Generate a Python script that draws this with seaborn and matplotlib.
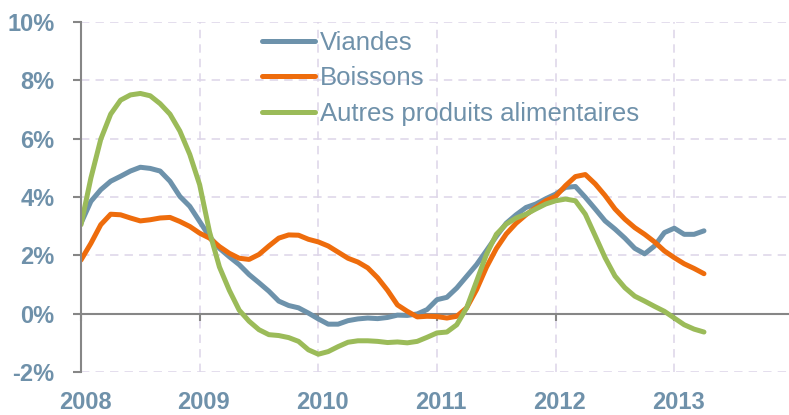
import numpy as np
import pandas as pd
import matplotlib
matplotlib.use("Agg")
import matplotlib.pyplot as plt
from matplotlib.transforms import ScaledTranslation
import seaborn as sns

# ---- data (monthly, Jan 2008 -> Apr 2013), % year-on-year ----
start_year = 2008
series_names = ["Viandes", "Boissons", "Autres produits alimentaires"]
viandes = [3.1, 3.85, 4.25, 4.54, 4.71, 4.89, 5.02, 4.98, 4.89, 4.54, 4.02, 3.68,
           3.16, 2.64, 2.24, 1.95, 1.68, 1.34, 1.06, 0.77, 0.43, 0.28, 0.2, 0.02,
           -0.18, -0.36, -0.36, -0.24, -0.18, -0.15, -0.17, -0.13, -0.05, -0.06, -0.01, 0.14,
           0.48, 0.56, 0.88, 1.28, 1.68, 2.16, 2.65, 3.1, 3.39, 3.64, 3.76, 3.94,
           4.1, 4.33, 4.36, 3.99, 3.59, 3.18, 2.9, 2.59, 2.24, 2.05, 2.32, 2.78,
           2.93, 2.72, 2.72, 2.84]
boissons = [1.84, 2.41, 3.05, 3.41, 3.39, 3.28, 3.18, 3.22, 3.28, 3.30, 3.16, 2.99,
            2.76, 2.59, 2.3, 2.07, 1.9, 1.86, 2.03, 2.32, 2.59, 2.70, 2.69, 2.55,
            2.46, 2.32, 2.11, 1.9, 1.77, 1.57, 1.23, 0.8, 0.3, 0.08, -0.11, -0.09,
            -0.1, -0.15, -0.09, 0.2, 0.82, 1.59, 2.23, 2.73, 3.1, 3.39, 3.64, 3.87,
            4.02, 4.39, 4.7, 4.77, 4.45, 4.05, 3.59, 3.24, 2.95, 2.72, 2.46, 2.15,
            1.92, 1.71, 1.55, 1.37]
autres = [3.05, 4.65, 5.98, 6.84, 7.32, 7.5, 7.55, 7.47, 7.2, 6.84, 6.26, 5.46,
          4.42, 2.8, 1.6, 0.8, 0.12, -0.26, -0.55, -0.72, -0.75, -0.82, -0.95, -1.24,
          -1.39, -1.3, -1.13, -0.98, -0.93, -0.93, -0.95, -0.99, -0.97, -1.0, -0.95, -0.81,
          -0.66, -0.63, -0.38, 0.2, 1.11, 2.03, 2.72, 3.07, 3.28, 3.41, 3.59, 3.76,
          3.87, 3.93, 3.87, 3.41, 2.67, 1.92, 1.29, 0.89, 0.6, 0.43, 0.25, 0.08,
          -0.15, -0.38, -0.53, -0.63]
year_ticks = [2008, 2009, 2010, 2011, 2012, 2013]
y_ticks = [-2, 0, 2, 4, 6, 8, 10]
y_tick_labels = ["-2%", "0%", "2%", "4%", "6%", "8%", "10%"]

colors = ["#6D92AB", "#EE6C0C", "#9BBB59"]
text_color = "#6F91AA"

months = np.arange(len(viandes))
xpos = start_year + months / 12.0
df = pd.concat([
    pd.DataFrame({"x": xpos, "v": vals, "serie": name})
    for name, vals in zip(series_names, [viandes, boissons, autres])
], ignore_index=True)

sns.set_style("white")
plt.rcParams["font.family"] = ["Liberation Sans", "DejaVu Sans"]

W, H = 789, 415
fig = plt.figure(figsize=(W / 100, H / 100), dpi=100)
ax = fig.add_axes([81 / W, (H - 372) / H, (W - 81) / W, 350 / H])

sns.lineplot(data=df, x="x", y="v", hue="serie", palette=colors,
             hue_order=series_names, linewidth=3.6, ax=ax, legend=False)
for ln in ax.lines:
    ln.set_solid_capstyle("round")
    ln.set_solid_joinstyle("round")

ax.set_xlim(2008, 2008 + 708 / 118.66)
ax.set_ylim(-2, 10)

# grid
grid_kw = dict(color="#DDD5E8", lw=1.1, ls=(0, (5.5, 4)), zorder=0)
for yv in y_ticks:
    if yv != 0:
        ax.axhline(yv, **grid_kw)
for xv in year_ticks[1:]:
    ax.axvline(xv, **grid_kw)

# spines
for s in ["top", "right"]:
    ax.spines[s].set_visible(False)
ax.spines["left"].set_color("#868686")
ax.spines["left"].set_linewidth(1.5)
ax.spines["bottom"].set_position(("data", 0))
ax.spines["bottom"].set_color("#868686")
ax.spines["bottom"].set_linewidth(1.5)
ax.spines["bottom"].set_zorder(1)

ax.set_yticks(y_ticks)
ax.set_yticklabels(y_tick_labels)
ax.set_xticks(year_ticks)
ax.set_xticklabels([str(y) for y in year_ticks])
ax.tick_params(axis="y", direction="out", length=6, width=1.5, color="#868686",
               pad=13, labelsize=17, labelcolor=text_color, left=True)
ax.tick_params(axis="x", direction="out", length=5, width=1.5, color="#868686",
               pad=51, labelsize=17, labelcolor=text_color, bottom=True)
for lab in ax.get_yticklabels() + ax.get_xticklabels():
    lab.set_fontweight("bold")
for lab in ax.get_xticklabels():
    lab.set_transform(lab.get_transform() + ScaledTranslation(4 / 100, 0, fig.dpi_scale_trans))
ax.set_xlabel("")
ax.set_ylabel("")

handles = [plt.Line2D([], [], color=c, lw=3.6, solid_capstyle="round") for c in colors]
leg = ax.legend(handles, series_names, loc="upper left",
                bbox_to_anchor=(262 / W, 1 - 31 / H), bbox_transform=fig.transFigure,
                frameon=False, fontsize=18.5, handlelength=2.06, handletextpad=0.2,
                labelspacing=0.44, borderpad=0, borderaxespad=0)
for t in leg.get_texts():
    t.set_color(text_color)

fig.savefig("out.png", dpi=100)
